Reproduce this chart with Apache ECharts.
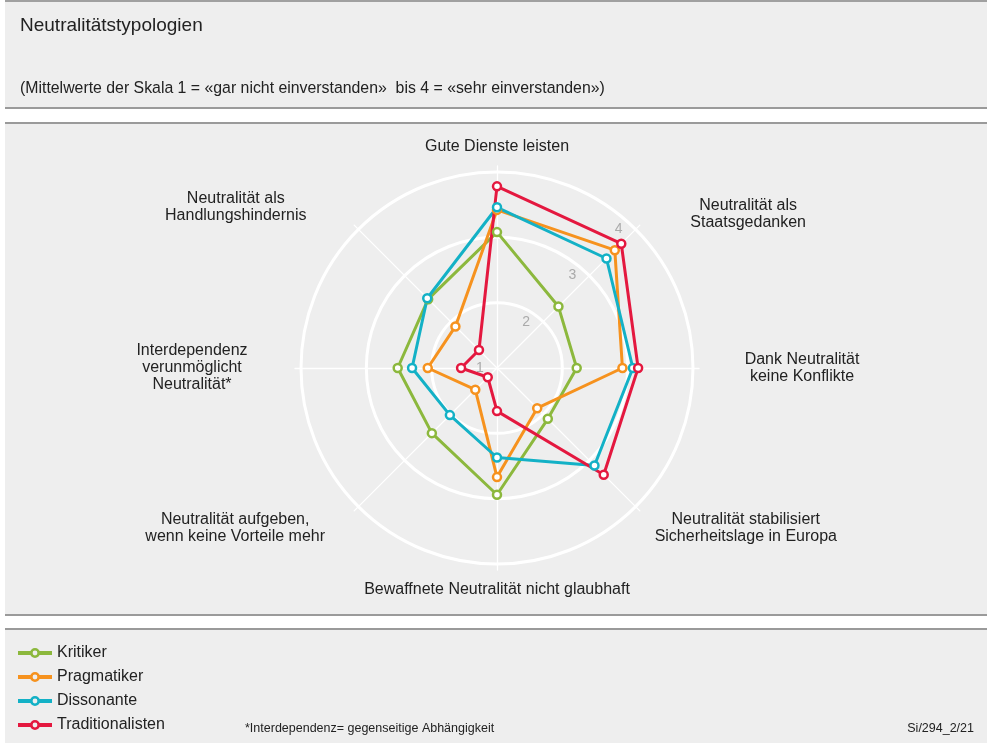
<!DOCTYPE html>
<html>
<head>
<meta charset="utf-8">
<title>Neutralitätstypologien</title>
<script src="https://cdn.jsdelivr.net/npm/echarts@6/dist/echarts.min.js"></script>
<style>
  body { margin: 0; background: #fff; }
  .panel { position: absolute; left: 5px; right: 0; background: #eeeeee; box-sizing: border-box; }
  #p1 { top: 0; height: 109px; border-top: 2px solid #a0a0a0; border-bottom: 2px solid #9a9a9a; }
  #p2 { top: 122px; height: 494px; border-top: 2px solid #9a9a9a; border-bottom: 2px solid #9a9a9a; }
  #p3 { top: 628px; height: 115px; border-top: 2px solid #9a9a9a; }
  #chart { position: absolute; left: 0; top: 0; width: 987px; height: 743px; }
</style>
</head>
<body>
<div class="panel" id="p1"></div>
<div class="panel" id="p2"></div>
<div class="panel" id="p3"></div>
<div id="chart"></div>
<script>
// Kategorien im Uhrzeigersinn, beginnend oben
var categories = [
  "Gute Dienste leisten",
  "Neutralität als\nStaatsgedanken",
  "Dank Neutralität\nkeine Konflikte",
  "Neutralität stabilisiert\nSicherheitslage in Europa",
  "Bewaffnete Neutralität nicht glaubhaft",
  "Neutralität aufgeben,\nwenn keine Vorteile mehr",
  "Interdependenz\nverunmöglicht\nNeutralität*",
  "Neutralität als\nHandlungshindernis"
];
var seriesNames = ["Kritiker", "Pragmatiker", "Dissonante", "Traditionalisten"];
// Mittelwerte (Skala 1-4), gleiche Reihenfolge wie categories
var kritiker = [3.08, 2.33, 2.22, 2.10, 2.94, 2.41, 2.52, 2.49];
var pragmatiker = [3.42, 3.55, 2.92, 1.87, 2.67, 1.47, 2.06, 1.90];
var dissonante = [3.46, 3.37, 3.08, 3.11, 2.37, 2.02, 2.30, 2.51];
var traditionalisten = [3.78, 3.69, 3.16, 3.31, 1.66, 1.20, 1.55, 1.39];
var scaleMin = 1;
var scaleMax = 4;

var colors = ["#8cb83d", "#f6921e", "#13b1c6", "#e4183f"];
var fontFamily = "'Liberation Sans', Arial, Helvetica, sans-serif";

// Abstand + seitliches padding der Achsennamen, damit sie wie im Original sitzen
var nameGaps = [17, 22, 17, 30, 17, 30, 17, 32];
var namePadding = [
  null,
  [0, 0, 0, 194],
  [0, 0, 0, 184],
  [0, 0, 0, 178],
  null,
  [0, 204, 0, 0],
  [0, 184, 0, 0],
  [0, 200, 0, 0]
];

// echarts radar laeuft gegen den Uhrzeigersinn -> Reihenfolge umdrehen
function ccw(arr) {
  var out = [arr[0]];
  for (var i = arr.length - 1; i > 0; i--) out.push(arr[i]);
  return out;
}

var allValues = [kritiker, pragmatiker, dissonante, traditionalisten];

var indicators = ccw(categories.map(function (c, i) {
  var ind = { name: c, min: scaleMin, max: scaleMax, nameGap: nameGaps[i], nameMoveOverlap: false };
  if (namePadding[i]) {
    ind.nameTextStyle = { align: "center", padding: namePadding[i] };
  }
  if (i === 1) {
    // Skalenwerte nur an dieser Achse
    ind.axisLabel = { show: true };
  }
  return ind;
}));

var lineIndicators = categories.map(function () {
  return { name: "", min: scaleMin, max: scaleMax };
});

var legendIcon = "path://M0,3H12.5V7H0Z M21.5,3H34V7H21.5Z M17,0A5,5,0,1,1,17,10A5,5,0,1,1,17,0Z M17,2.6A2.4,2.4,0,1,0,17,7.4A2.4,2.4,0,1,0,17,2.6Z";

var chart = echarts.init(document.getElementById("chart"));

var option = {
  animation: false,
  textStyle: { fontFamily: fontFamily },
  title: [
    {
      text: "Neutralitätstypologien",
      left: 20, top: 16, padding: 0,
      textStyle: { fontSize: 19, fontWeight: "normal", color: "#222", fontFamily: fontFamily }
    },
    {
      text: "(Mittelwerte der Skala 1 = «gar nicht einverstanden»  bis 4 = «sehr einverstanden»)",
      left: 20, top: 81, padding: 0,
      textStyle: { fontSize: 15.85, fontWeight: "normal", color: "#222", fontFamily: fontFamily }
    },
    {
      text: "*Interdependenz= gegenseitige Abhängigkeit",
      left: 245, top: 722, padding: 0,
      textStyle: { fontSize: 12.5, fontWeight: "normal", color: "#222", fontFamily: fontFamily }
    },
    {
      text: "Si/294_2/21",
      right: 13, top: 722, padding: 0,
      textStyle: { fontSize: 12.5, fontWeight: "normal", color: "#222", fontFamily: fontFamily }
    }
  ],
  legend: {
    orient: "vertical",
    left: 18,
    top: 645,
    padding: 0,
    itemWidth: 34,
    itemHeight: 10,
    itemGap: 8,
    selectedMode: false,
    icon: legendIcon,
    itemStyle: { borderWidth: 0 },
    textStyle: { fontSize: 16, color: "#222", fontFamily: fontFamily },
    data: seriesNames.map(function (n, i) {
      return { name: n, itemStyle: { color: colors[i] } };
    })
  },
  radar: [
    {
      // Kreise, Beschriftung
      center: [497, 368],
      radius: 196,
      shape: "circle",
      splitNumber: 3,
      axisNameGap: 17,
      axisName: { color: "#222", fontSize: 16, lineHeight: 17, fontFamily: fontFamily },
      axisLine: { show: false },
      axisTick: { show: false },
      axisLabel: {
        show: false, color: "#aaaaaa", fontSize: 14, margin: 0,
        align: "center", verticalAlign: "middle", padding: [0, 34, 0, 0],
        fontFamily: fontFamily
      },
      splitLine: { lineStyle: { color: "#ffffff", width: 3 } },
      splitArea: { show: false },
      indicator: indicators
    },
    {
      // Speichen, etwas laenger als der aeussere Kreis
      center: [497, 368],
      radius: 202,
      shape: "circle",
      splitNumber: 3,
      axisName: { show: false },
      axisLine: { lineStyle: { color: "#ffffff", width: 1.3 } },
      axisTick: { show: false },
      axisLabel: { show: false },
      splitLine: { show: false },
      splitArea: { show: false },
      indicator: lineIndicators
    }
  ],
  series: [
    {
      type: "radar",
      radarIndex: 0,
      symbol: "circle",
      symbolSize: 8,
      silent: true,
      data: seriesNames.map(function (n, i) {
        return {
          name: n,
          value: ccw(allValues[i]),
          lineStyle: { color: colors[i], width: 3 },
          itemStyle: { color: "#ffffff", borderColor: colors[i], borderWidth: 2.5 }
        };
      })
    }
  ]
};

chart.setOption(option);
</script>
</body>
</html>
